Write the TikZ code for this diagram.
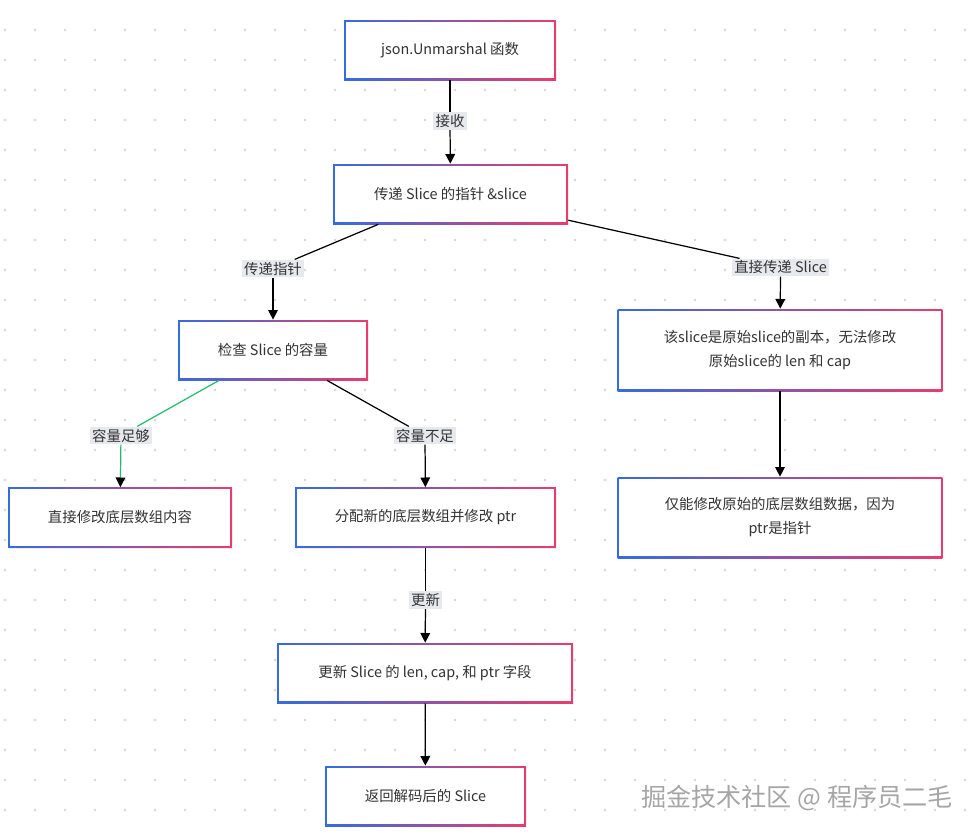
\documentclass[tikz,border=0pt]{standalone}
\usepackage{fontspec}
\setmainfont{Noto Sans CJK SC}
\usetikzlibrary{arrows.meta,shadows}
\definecolor{boxblue}{RGB}{52,108,224}
\definecolor{boxpink}{RGB}{234,60,108}
\definecolor{txtgray}{RGB}{51,51,51}
\definecolor{lblbg}{RGB}{232,233,238}
\definecolor{okgreen}{RGB}{34,190,110}
\definecolor{dotgray}{RGB}{212,212,212}
\tikzset{
  box/.style={rectangle, fill=white, text=txtgray, minimum height=1.2cm, align=center,
    font=\fontsize{8.2pt}{13.6pt}\selectfont,
    drop shadow={opacity=0.12, shadow xshift=0.5pt, shadow yshift=-0.7pt},
    path picture={
      \shade[left color=boxblue, right color=boxpink]
        (path picture bounding box.south west) rectangle (path picture bounding box.north east);
      \fill[white] ([shift={(0.9pt,0.9pt)}]path picture bounding box.south west)
        rectangle ([shift={(-0.9pt,-0.9pt)}]path picture bounding box.north east);}},
  lbl/.style={fill=lblbg, text=txtgray, inner sep=1.2pt, font=\fontsize{8.2pt}{10pt}\selectfont},
  line/.style={draw=black, line width=0.7pt},
  arr/.style={line, -{Triangle[length=5.5pt,width=5.5pt,color=black]}},
}
\begin{document}
\begin{tikzpicture}[x=0.02cm, y=0.02cm]
\fill[white] (0,-836) rectangle (976,0);
\useasboundingbox (0,-836) rectangle (976,0);
% dotted canvas
\foreach \i in {0,...,32}
  \foreach \j in {1,...,27}
    \fill[dotgray] (5+30*\i, -30*\j) circle (0.026cm);

% steps
\node[box, minimum width=4.24cm] (json) at (450,-50) {json.Unmarshal 函数};
\node[box, minimum width=4.7cm] (ptr) at (450.5,-194) {传递 Slice 的指针 \&slice};
\node[box, minimum width=3.8cm] (check) at (273,-350) {检查 Slice 的容量};
\node[box, minimum width=6.5cm, minimum height=1.64cm] (copy) at (780,-350) {该slice是原始slice的副本，无法修改\\原始slice的 len 和 cap};
\node[box, minimum width=6.5cm, minimum height=1.62cm] (only) at (780,-517.5) {仅能修改原始的底层数组数据，因为\\ptr是指针};
\node[box, minimum width=4.48cm] (direct) at (120,-517.5) {直接修改底层数组内容};
\node[box, minimum width=5.22cm] (alloc) at (425.5,-517.5) {分配新的底层数组并修改 ptr};
\node[box, minimum width=5.92cm] (update) at (425,-673) {更新 Slice 的 len, cap, 和 ptr 字段};
\node[box, minimum width=4.02cm] (ret) at (425.5,-796) {返回解码后的 Slice};

% edge labels
\node[lbl] (recv) at (450,-121) {接收};
\node[lbl] (viaptr) at (273,-268.5) {传递指针};
\node[lbl] (viaval) at (780.5,-267.5) {直接传递 Slice};
\node[lbl] (enough) at (121,-435.5) {容量足够};
\node[lbl] (short) at (425,-435.5) {容量不足};
\node[lbl] (renew) at (425.5,-600) {更新};

% connectors
\draw[line] (json) -- (recv);
\draw[arr] (recv) -- (ptr);
\draw[line] (ptr) -- (viaptr);
\draw[arr] (viaptr) -- (check);
\draw[line] (ptr) -- (viaval);
\draw[arr] (viaval) -- (copy);
\draw[line, draw=okgreen] (check) -- (enough);
\draw[arr, draw=okgreen] (enough) -- (direct);
\draw[line] (check) -- (short);
\draw[arr] (short) -- (alloc);
\draw[line] (alloc) -- (renew);
\draw[arr] (renew) -- (update);
\draw[arr] (update) -- (ret);
\draw[arr] (copy) -- (only);

\node[text=gray!70, inner sep=0pt, font=\fontsize{14.3pt}{17pt}\selectfont, anchor=east] (mark) at (953,-798) {掘金技术社区 @ 程序员二毛};
\end{tikzpicture}
\end{document}
